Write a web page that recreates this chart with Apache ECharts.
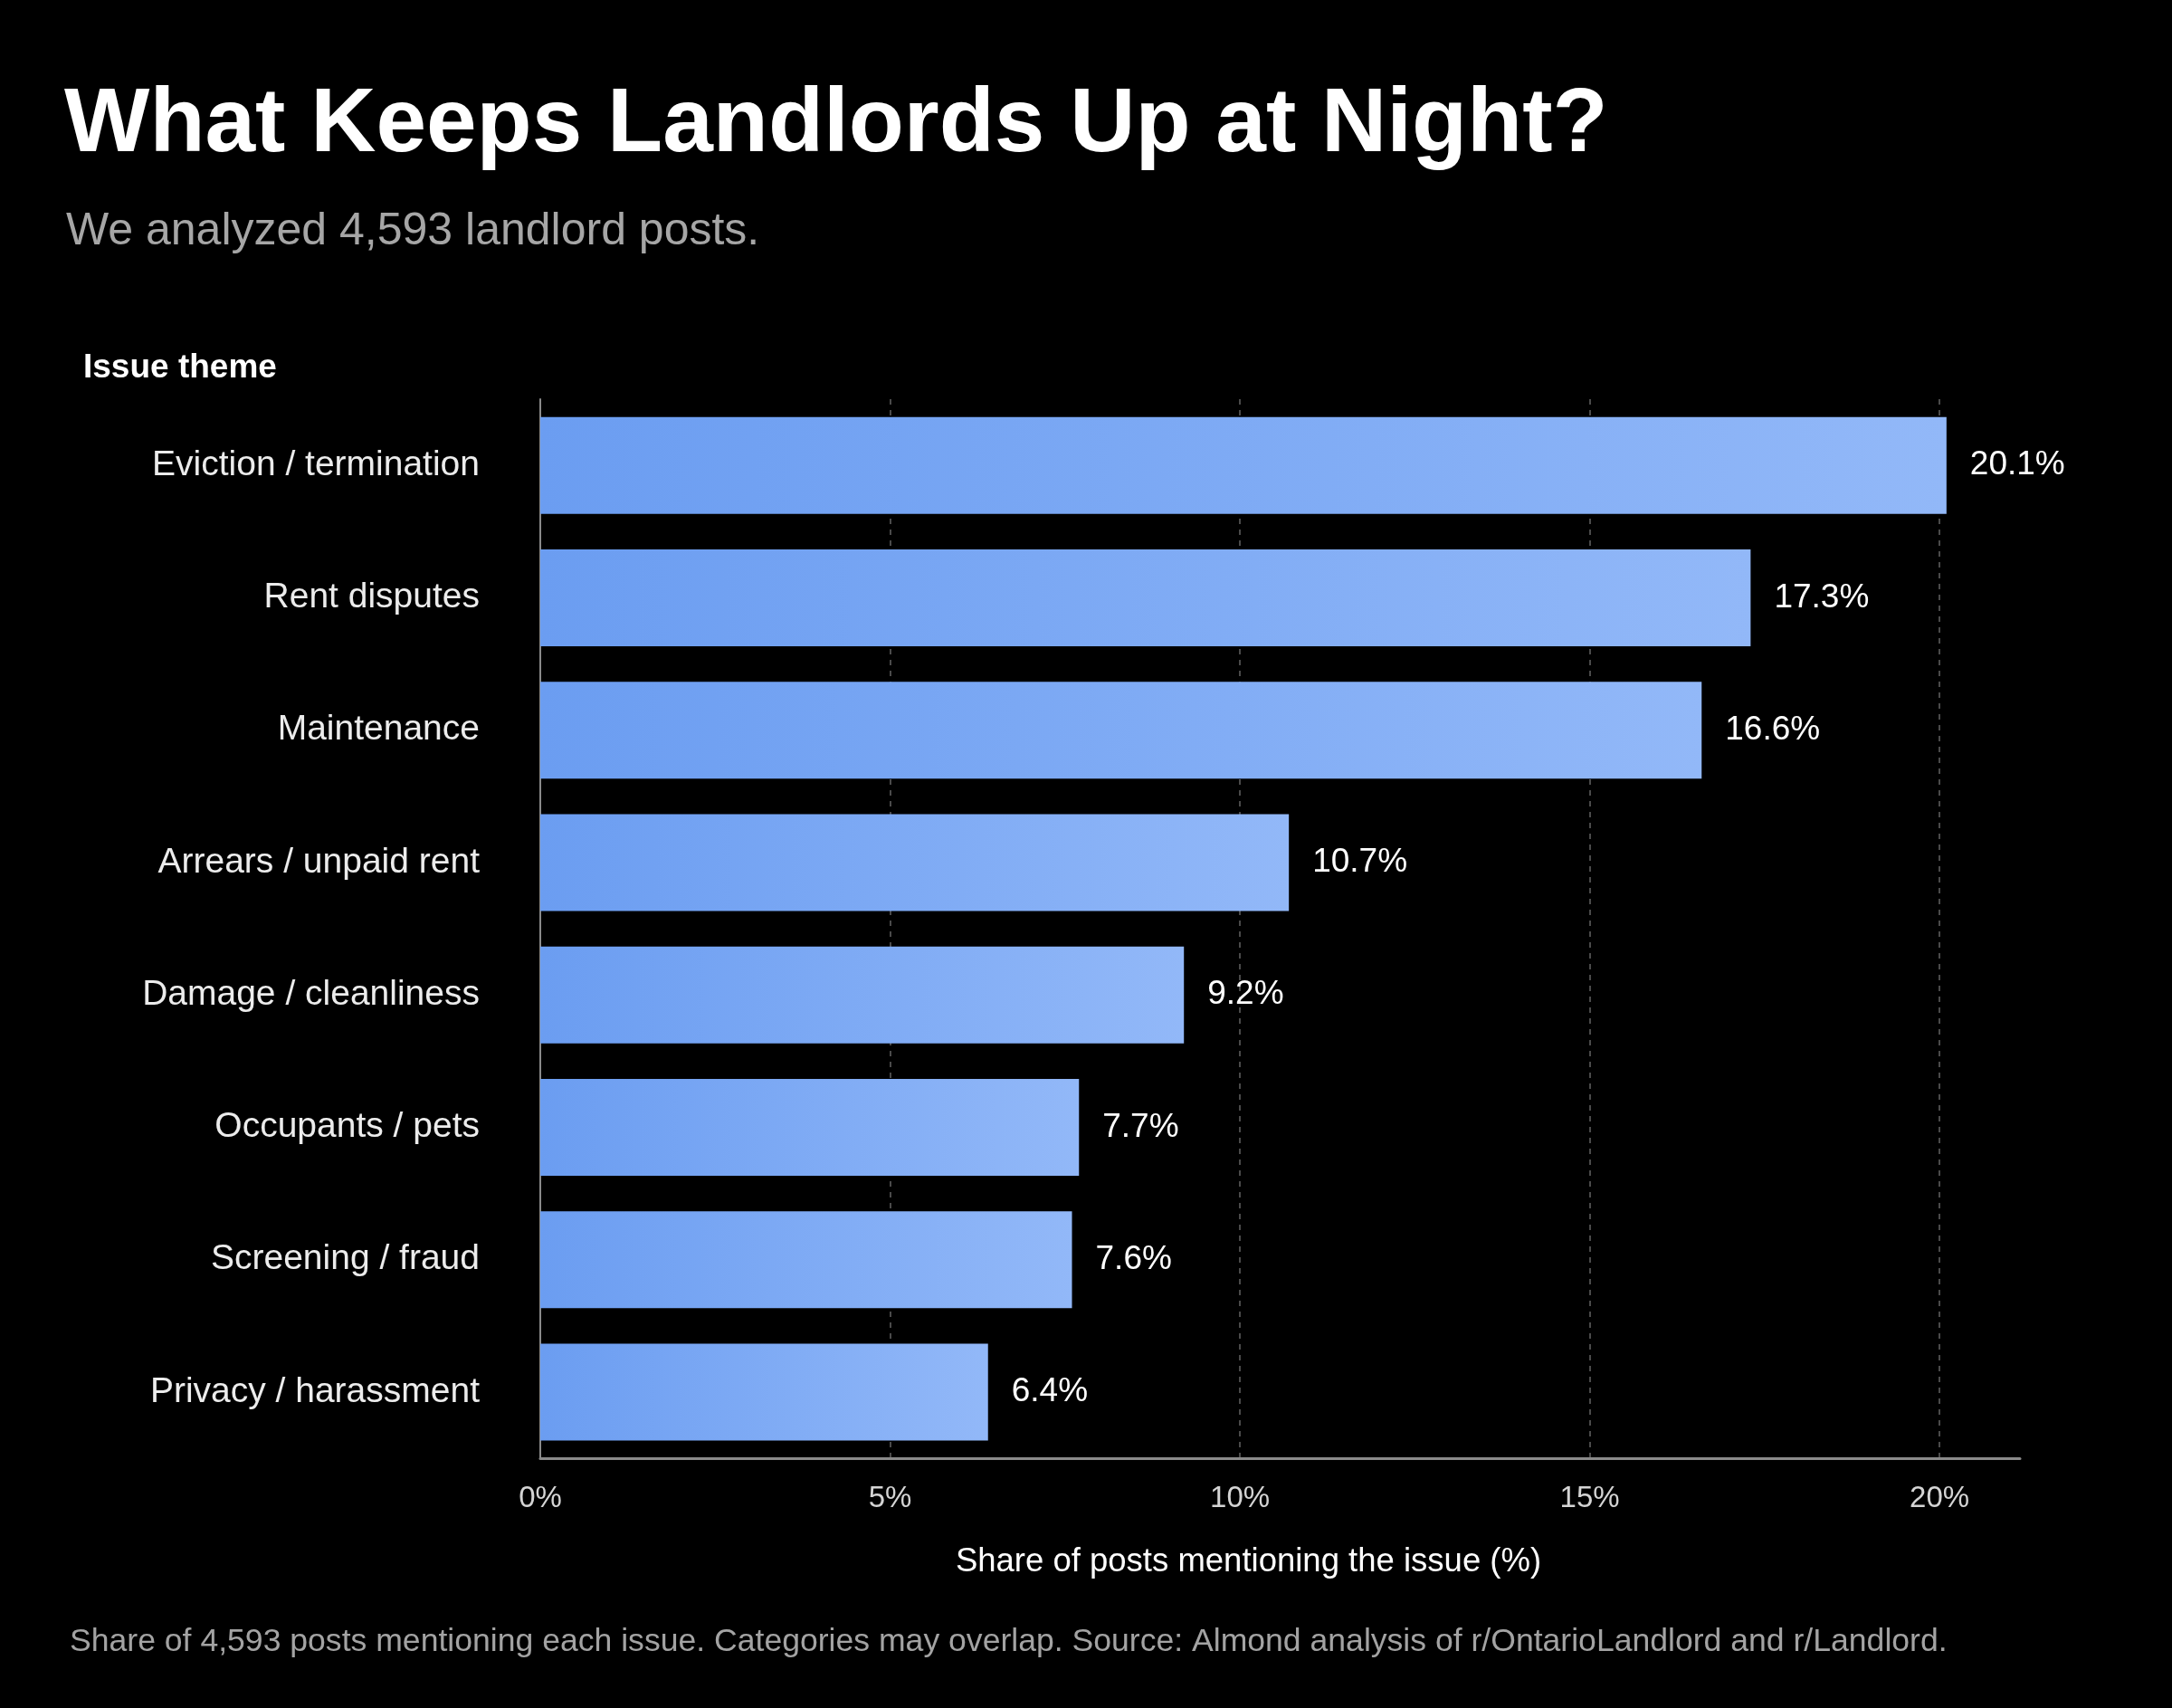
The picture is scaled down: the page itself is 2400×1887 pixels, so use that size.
<!DOCTYPE html>
<html>
<head>
<meta charset="utf-8">
<script src="https://cdn.jsdelivr.net/npm/echarts@6/dist/echarts.min.js"></script>
<style>
  html, body { margin: 0; padding: 0; background: #000; }
  #main { width: 2400px; height: 1887px; }
</style>
</head>
<body>
<div id="main"></div>
<script>
// data
var categories = [
    'Eviction / termination',
    'Rent disputes',
    'Maintenance',
    'Arrears / unpaid rent',
    'Damage / cleanliness',
    'Occupants / pets',
    'Screening / fraud',
    'Privacy / harassment'
];
var shares = [20.1, 17.3, 16.6, 10.7, 9.2, 7.7, 7.6, 6.4];
var xTicks = [0, 5, 10, 15, 20];

var FONT = '"Liberation Sans", Arial, Helvetica, sans-serif';

var myChart = echarts.init(document.getElementById('main'));

var barColor = new echarts.graphic.LinearGradient(0, 0, 1, 0, [
    { offset: 0, color: '#6b9df1' },
    { offset: 1, color: '#92b8f8' }
]);

var option = {
    backgroundColor: '#000000',
    animation: false,
    title: [{
        text: 'What Keeps Landlords Up at Night?',
        left: 66,
        top: 84,
        textStyle: { color: '#ffffff', fontSize: 100, fontWeight: 'bold', fontFamily: FONT }
    }, {
        text: 'We analyzed 4,593 landlord posts.',
        left: 68,
        top: 226,
        textStyle: { color: '#a6a6a6', fontSize: 50, fontWeight: 'normal', fontFamily: FONT }
    }, {
        text: 'Issue theme',
        left: 87,
        top: 383,
        textStyle: { color: '#ffffff', fontSize: 37, fontWeight: 'bold', fontFamily: FONT }
    }, {
        text: 'Share of 4,593 posts mentioning each issue. Categories may overlap. Source: Almond analysis of r/OntarioLandlord and r/Landlord.',
        left: 72,
        top: 1791,
        textStyle: { color: '#a3a3a3', fontSize: 35.6, fontWeight: 'normal', fontFamily: FONT }
    }],
    grid: {
        left: 597,
        right: 168,
        top: 441,
        bottom: 276,
        containLabel: false
    },
    xAxis: {
        type: 'value',
        min: 0,
        max: 21.15,
        interval: 5,
        name: 'Share of posts mentioning the issue (%)',
        nameLocation: 'middle',
        nameGap: 96,
        nameTextStyle: { color: '#ffffff', fontSize: 36.5, fontFamily: FONT, padding: [0, 70, 0, 0] },
        axisLine: { show: true, lineStyle: { color: '#8a8a8a', width: 3 } },
        axisTick: { show: false },
        axisLabel: {
            color: '#d4d4d4',
            fontSize: 33,
            fontFamily: FONT,
            margin: 28,
            showMaxLabel: false,
            formatter: function (v) {
                return xTicks.indexOf(v) >= 0 ? v + '%' : '';
            }
        },
        splitLine: {
            show: true,
            showMinLine: false,
            showMaxLine: false,
            lineStyle: { color: '#4a4a4a', type: [6, 6], width: 2 }
        }
    },
    yAxis: {
        type: 'category',
        inverse: true,
        data: categories,
        axisLine: { show: true, lineStyle: { color: '#8a8a8a', width: 2 } },
        axisTick: { show: false },
        axisLabel: {
            color: '#ececec',
            fontSize: 39,
            fontFamily: FONT,
            margin: 67
        }
    },
    series: [{
        type: 'bar',
        data: shares,
        barWidth: 107,
        itemStyle: { color: barColor },
        label: {
            show: true,
            position: 'right',
            distance: 26,
            color: '#ffffff',
            fontSize: 37,
            fontFamily: FONT,
            formatter: function (p) {
                return p.value.toFixed(1) + '%';
            }
        }
    }]
};

myChart.setOption(option);
</script>
</body>
</html>
